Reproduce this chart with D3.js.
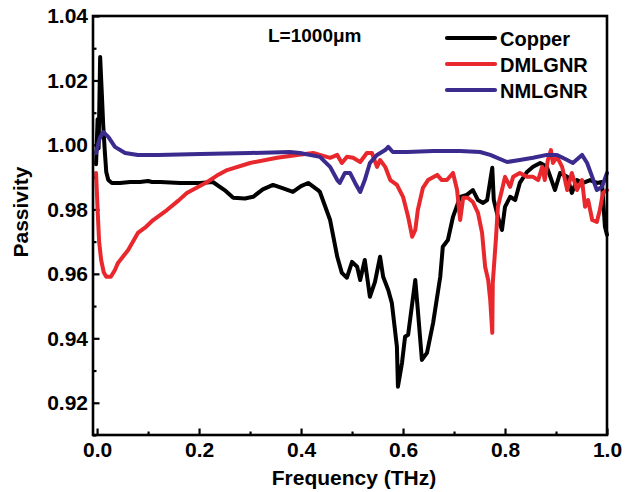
<!DOCTYPE html>
<html>
<head>
<meta charset="utf-8">
<script src="https://cdn.jsdelivr.net/npm/d3@7"></script>
<style>
  body { margin: 0; background: #fff; }
  text { font-family: "Liberation Sans", Arial, sans-serif; font-weight: bold; fill: #000; }
</style>
</head>
<body>
<div id="chart"></div>
<script>
// [frequency (THz), passivity]
const copperData = [
  [-0.002, 0.9940], [0.001, 1.0080], [0.003, 0.9990], [0.006, 1.0273], [0.009, 1.0170],
  [0.012, 1.0062], [0.015, 0.9984], [0.018, 0.9916], [0.022, 0.9891], [0.029, 0.9882],
  [0.045, 0.9882], [0.065, 0.9885], [0.084, 0.9885], [0.100, 0.9888], [0.108, 0.9885],
  [0.124, 0.9885], [0.163, 0.9882], [0.202, 0.9882], [0.227, 0.9885], [0.250, 0.9860],
  [0.267, 0.9836], [0.290, 0.9834], [0.306, 0.9839], [0.325, 0.9862], [0.345, 0.9876],
  [0.365, 0.9865], [0.384, 0.9854], [0.400, 0.9872], [0.414, 0.9882], [0.433, 0.9860],
  [0.437, 0.9854], [0.457, 0.9767], [0.471, 0.9653], [0.480, 0.9603], [0.490, 0.9588],
  [0.500, 0.9637], [0.510, 0.9622], [0.516, 0.9581], [0.525, 0.9643], [0.535, 0.9529],
  [0.545, 0.9575], [0.555, 0.9653], [0.561, 0.9591], [0.571, 0.9550], [0.578, 0.9510],
  [0.588, 0.9374], [0.590, 0.9250], [0.598, 0.9324], [0.604, 0.9405], [0.610, 0.9411],
  [0.624, 0.9581], [0.629, 0.9488], [0.637, 0.9333], [0.647, 0.9355], [0.659, 0.9448],
  [0.673, 0.9591], [0.678, 0.9684], [0.688, 0.9705], [0.698, 0.9777], [0.712, 0.9839],
  [0.725, 0.9845], [0.737, 0.9860], [0.747, 0.9829], [0.757, 0.9820], [0.765, 0.9829],
  [0.775, 0.9929], [0.778, 0.9829], [0.786, 0.9777], [0.794, 0.9736], [0.800, 0.9808],
  [0.810, 0.9839], [0.820, 0.9829], [0.829, 0.9882], [0.843, 0.9916], [0.855, 0.9932],
  [0.869, 0.9944], [0.882, 0.9932], [0.898, 0.9860], [0.908, 0.9913], [0.922, 0.9901],
  [0.931, 0.9851], [0.941, 0.9891], [0.953, 0.9882], [0.967, 0.9891], [0.980, 0.9882],
  [0.990, 0.9885], [0.996, 0.9746], [1.000, 0.9721]
];

const dmlgnrData = [
  [-0.002, 0.9913], [0.001, 0.9800], [0.004, 0.9700], [0.008, 0.9643], [0.013, 0.9605],
  [0.018, 0.9591], [0.027, 0.9591], [0.035, 0.9612], [0.041, 0.9634], [0.061, 0.9674],
  [0.080, 0.9727], [0.096, 0.9746], [0.110, 0.9767], [0.137, 0.9798], [0.160, 0.9828],
  [0.176, 0.9851], [0.196, 0.9868], [0.216, 0.9885], [0.235, 0.9905], [0.255, 0.9922],
  [0.300, 0.9944], [0.353, 0.9960], [0.392, 0.9969], [0.424, 0.9975], [0.437, 0.9969],
  [0.457, 0.9960], [0.471, 0.9969], [0.480, 0.9944], [0.490, 0.9963], [0.502, 0.9960],
  [0.516, 0.9947], [0.529, 0.9975], [0.539, 0.9975], [0.549, 0.9932], [0.555, 0.9953],
  [0.565, 0.9932], [0.575, 0.9891], [0.588, 0.9876], [0.600, 0.9839], [0.610, 0.9777],
  [0.618, 0.9715], [0.624, 0.9736], [0.629, 0.9798], [0.639, 0.9867], [0.649, 0.9891],
  [0.657, 0.9898], [0.667, 0.9907], [0.676, 0.9891], [0.686, 0.9891], [0.698, 0.9913],
  [0.706, 0.9860], [0.712, 0.9767], [0.718, 0.9836], [0.727, 0.9836], [0.737, 0.9823],
  [0.747, 0.9789], [0.755, 0.9727], [0.761, 0.9622], [0.767, 0.9581], [0.771, 0.9519],
  [0.775, 0.9417], [0.776, 0.9572], [0.782, 0.9705], [0.786, 0.9808], [0.794, 0.9860],
  [0.800, 0.9901], [0.810, 0.9870], [0.816, 0.9901], [0.829, 0.9913], [0.843, 0.9901],
  [0.855, 0.9901], [0.865, 0.9891], [0.873, 0.9932], [0.878, 0.9891], [0.884, 0.9953],
  [0.890, 0.9984], [0.894, 0.9944], [0.902, 0.9963], [0.912, 0.9932], [0.922, 0.9860],
  [0.931, 0.9913], [0.941, 0.9860], [0.951, 0.9891], [0.957, 0.9808], [0.963, 0.9829],
  [0.971, 0.9767], [0.980, 0.9761], [0.986, 0.9798], [0.992, 0.9851], [1.000, 0.9860]
];

const nmlgnrData = [
  [-0.002, 0.9975], [0.005, 1.0020], [0.012, 1.0040], [0.022, 1.0025], [0.035, 0.9994],
  [0.055, 0.9975], [0.080, 0.9969], [0.120, 0.9969], [0.202, 0.9972], [0.300, 0.9975],
  [0.378, 0.9978], [0.398, 0.9975], [0.437, 0.9963], [0.457, 0.9932], [0.471, 0.9891],
  [0.476, 0.9882], [0.486, 0.9913], [0.496, 0.9913], [0.506, 0.9882], [0.516, 0.9854],
  [0.525, 0.9891], [0.535, 0.9944], [0.549, 0.9969], [0.565, 0.9984], [0.571, 0.9994],
  [0.580, 0.9978], [0.608, 0.9978], [0.659, 0.9981], [0.712, 0.9981], [0.751, 0.9978],
  [0.771, 0.9969], [0.804, 0.9947], [0.829, 0.9953], [0.855, 0.9960], [0.882, 0.9969],
  [0.902, 0.9969], [0.922, 0.9953], [0.933, 0.9944], [0.951, 0.9969], [0.961, 0.9944],
  [0.971, 0.9901], [0.980, 0.9860], [0.990, 0.9870], [1.000, 0.9913]
];

const seriesNames = ["Copper", "DMLGNR", "NMLGNR"];
const seriesColors = ["#000000", "#e8282c", "#3b2b8e"];
const xTicks = [0.0, 0.2, 0.4, 0.6, 0.8, 1.0];
const xMinorTicks = [0.1, 0.3, 0.5, 0.7, 0.9];
const yTicks = [0.92, 0.94, 0.96, 0.98, 1.00, 1.02, 1.04];
const yMinorTicks = [0.91, 0.93, 0.95, 0.97, 0.99, 1.01, 1.03];

// Dimensions and margins
const margin = { top: 16, right: 18, bottom: 57, left: 93 },
    width = 625 - margin.left - margin.right,
    height = 492 - margin.top - margin.bottom;

const svg = d3.select("#chart")
    .append("svg")
    .attr("width", 625)
    .attr("height", 492)
    .append("g")
    .attr("transform", `translate(${margin.left},${margin.top})`);

// Scales
const x = d3.scaleLinear().domain([-0.008, 1.0]).range([0, width]);
const y = d3.scaleLinear().domain([0.91, 1.04]).range([height, 0]);

// Minor ticks (inward)
svg.append("g")
    .attr("transform", `translate(0,${height})`)
    .call(d3.axisBottom(x).tickValues(xMinorTicks).tickSize(-3.5).tickFormat(""))
    .call(g => g.select(".domain").remove());
svg.append("g")
    .call(d3.axisLeft(y).tickValues(yMinorTicks).tickSize(-3.5).tickFormat(""))
    .call(g => g.select(".domain").remove());

// X axis
const xAxis = svg.append("g")
    .attr("transform", `translate(0,${height})`)
    .call(d3.axisBottom(x).tickValues(xTicks).tickSize(-6.5).tickPadding(7).tickFormat(d3.format(".1f")));
xAxis.select(".domain").remove();
xAxis.selectAll("text").style("font-size", "21px");

// Y axis
const yAxis = svg.append("g")
    .call(d3.axisLeft(y).tickValues(yTicks).tickSize(-6.5).tickPadding(5).tickFormat(d3.format(".2f")));
yAxis.select(".domain").remove();
yAxis.selectAll("text").style("font-size", "21px");

svg.selectAll(".tick line").attr("stroke", "#000").attr("stroke-width", 2.2);

// Curves
const line = d3.line()
    .x(d => x(d[0]))
    .y(d => y(d[1]));

[copperData, dmlgnrData, nmlgnrData].forEach((data, i) => {
    svg.append("path")
        .datum(data)
        .attr("fill", "none")
        .attr("stroke", seriesColors[i])
        .attr("stroke-width", 4)
        .attr("stroke-linejoin", "round")
        .attr("stroke-linecap", "round")
        .attr("d", line);
});

// Frame
svg.append("rect")
    .attr("x", 0)
    .attr("y", 0)
    .attr("width", width)
    .attr("height", height)
    .attr("fill", "none")
    .attr("stroke", "#000")
    .attr("stroke-width", 2.6);

// Legend
const legend = svg.selectAll(".legend")
    .data(seriesNames)
    .enter().append("g")
    .attr("class", "legend")
    .attr("transform", (d, i) => `translate(${447 - margin.left},${38 - margin.top + i * 26})`);

legend.append("line")
    .attr("x1", 0).attr("x2", 48)
    .attr("stroke", (d, i) => seriesColors[i])
    .attr("stroke-width", 4.2)
    .attr("stroke-linecap", "round");

legend.append("text")
    .attr("x", 53)
    .attr("y", 7.5)
    .style("font-size", "20px")
    .text(d => d);

// Annotation
svg.append("text")
    .attr("x", 268 - margin.left)
    .attr("y", 42 - margin.top)
    .style("font-size", "19px")
    .text("L=1000μm");

// Axis titles
svg.append("text")
    .attr("x", 354 - margin.left)
    .attr("y", 485 - margin.top)
    .attr("text-anchor", "middle")
    .style("font-size", "21px")
    .text("Frequency (THz)");

svg.append("text")
    .attr("transform", `translate(${28 - margin.left},${212 - margin.top}) rotate(-90)`)
    .attr("text-anchor", "middle")
    .style("font-size", "21px")
    .text("Passivity");
</script>
</body>
</html>
